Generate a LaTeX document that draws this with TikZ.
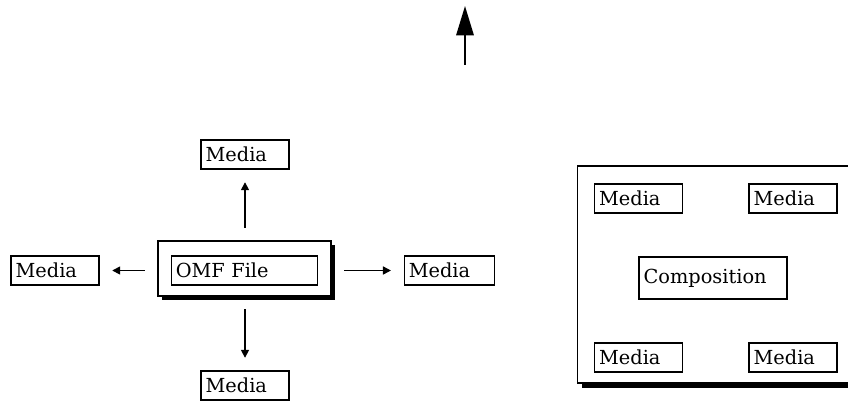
\documentclass[tikz,border=0pt]{standalone}
\usepackage{fontspec}
\setmainfont{DejaVu Serif}
\usetikzlibrary{arrows.meta,shadows}

\begin{document}
\begin{tikzpicture}[x=0.75pt, y=-0.75pt, font=\fontsize{14.5}{16}\selectfont, >={Triangle[length=6pt, width=6pt]},
box/.style={draw, line width=0.8pt, minimum height=21.75pt, inner xsep=3.5pt, inner ysep=0pt, align=left, text width=#1},
media/.style={box=59pt}, shade/.style={fill=white, drop shadow={shadow xshift=3pt, shadow yshift=-3pt, fill=black, opacity=1}},
frame/.style={draw, line width=0.8pt, shade}, link/.style={->, line width=1.2pt, shorten >=9.5pt, shorten <=9.5pt}]
\useasboundingbox (0,0) rectangle (848,403);
% file and the media it points to
\node[frame, minimum width=129.75pt, minimum height=41.25pt] (omf) at (244.5,268.5) {};
\node[box=103pt] (file) at (244.5,270.5) {OMF File};
\node[media] (mup) at (245,154.5) {Media};
\node[media] (mleft) at (55,270.5) {Media};
\node[box=61pt] (mright) at (449.5,270.5) {Media};
\node[media] (mdown) at (245,385.5) {Media};
\draw[link] (mup |- omf.north) -- (mup); \draw[link] (omf.west |- mleft) -- (mleft); \draw[link] (omf.east |- mright) -- (mright); \draw[link] (mdown |- omf.south) -- (mdown);
% composition
\node[frame, minimum width=218pt, minimum height=162.75pt, drop shadow={shadow xshift=3pt, shadow yshift=-4pt, fill=black, opacity=1}] (group) at (723,274.5) {};
\node[media] (ctl) at (638.5,198.5) {Media};
\node[media] (ctr) at (793,198.5) {Media};
\node[box=104pt, minimum height=31.5pt] (comp) at (713,278) {Composition};
\node[media] (cbl) at (638.5,357.5) {Media};
\node[media] (cbr) at (793,357.5) {Media};
% big arrow
\coordinate (up0) at (465,65); \coordinate (up1) at (465,6);
\draw[-{Triangle[length=22pt, width=13pt]}, line width=1.6pt] (up0) -- (up1);
\end{tikzpicture}
\end{document}
